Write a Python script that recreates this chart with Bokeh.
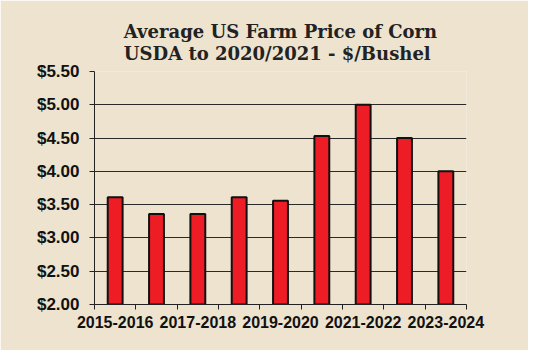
from bokeh.plotting import figure
from bokeh.models import FixedTicker, NumeralTickFormatter, ColumnDataSource, Range1d
from bokeh.embed import file_html
from bokeh.resources import INLINE

categories = ["2015-2016", "2016-2017", "2017-2018", "2018-2019", "2019-2020",
              "2020-2021", "2021-2022", "2022-2023", "2023-2024"]
prices = [3.61, 3.36, 3.36, 3.61, 3.56, 4.53, 5.00, 4.50, 4.00]
y_ticks = [2.0, 2.5, 3.0, 3.5, 4.0, 4.5, 5.0, 5.5]
labelled = ["2015-2016", "2017-2018", "2019-2020", "2021-2022", "2023-2024"]
title_lines = ["Average US Farm Price of Corn", "USDA to 2020/2021 - $/Bushel"]

BG = "#ede3cf"
xs = [i + 0.5 for i in range(len(categories))]
src = ColumnDataSource(dict(x=xs, top=prices, cat=categories))

p = figure(frame_width=372, frame_height=233, output_backend="svg", toolbar_location=None,
           x_range=Range1d(0, len(categories)), y_range=Range1d(2.0, 5.5),
           min_border_left=94, min_border_right=62, min_border_top=71, min_border_bottom=46,
           background_fill_color=BG, border_fill_color=BG)
p.outline_line_color = None

p.title.text = "\n".join(title_lines)
p.title.text_font = "DejaVu Serif"
p.title.text_font_size = "18px"
p.title.text_font_style = "bold"
p.title.text_color = "#222222"
p.title.text_line_height = 1.05
p.title.align = "center"
p.title.offset = -12
p.title.standoff = 14

p.vbar(x="x", top="top", bottom=2.0, width=0.36, source=src,
       fill_color="#ee1c25", line_color="#111111", line_width=2)

# y axis
p.yaxis.ticker = FixedTicker(ticks=y_ticks, minor_ticks=[])
p.yaxis.formatter = NumeralTickFormatter(format="$0.00")
p.yaxis.major_label_text_font = "Liberation Sans"
p.yaxis.major_label_text_font_style = "bold"
p.yaxis.major_label_text_font_size = "17px"
p.yaxis.major_label_text_color = "#111111"
p.yaxis.major_tick_out = 5
p.yaxis.major_tick_in = 0
p.yaxis.minor_tick_out = 0
p.yaxis.major_label_standoff = 10
p.yaxis.axis_line_color = "#222222"
p.yaxis.major_tick_line_color = "#222222"

# x axis
lab_pos = [xs[categories.index(c)] for c in labelled]
p.xaxis.ticker = FixedTicker(ticks=lab_pos, minor_ticks=list(range(len(categories) + 1)))
p.xaxis.major_label_overrides = {x: c for x, c in zip(lab_pos, labelled)}
p.xaxis.major_tick_out = 0
p.xaxis.major_tick_in = 0
p.xaxis.minor_tick_out = 5
p.xaxis.minor_tick_in = 0
p.xaxis.minor_tick_line_color = "#222222"
p.xaxis.axis_line_color = "#222222"
p.xaxis.major_label_text_font = "Liberation Sans"
p.xaxis.major_label_text_font_style = "bold"
p.xaxis.major_label_text_font_size = "16px"
p.xaxis.major_label_text_color = "#111111"
p.xaxis.major_label_standoff = 6

p.xgrid.grid_line_color = None
p.ygrid.ticker = FixedTicker(ticks=y_ticks)
p.ygrid.grid_line_color = "#2a2a2a"
p.ygrid.grid_line_width = 1

open("out.html", "w").write(file_html(p, INLINE))
